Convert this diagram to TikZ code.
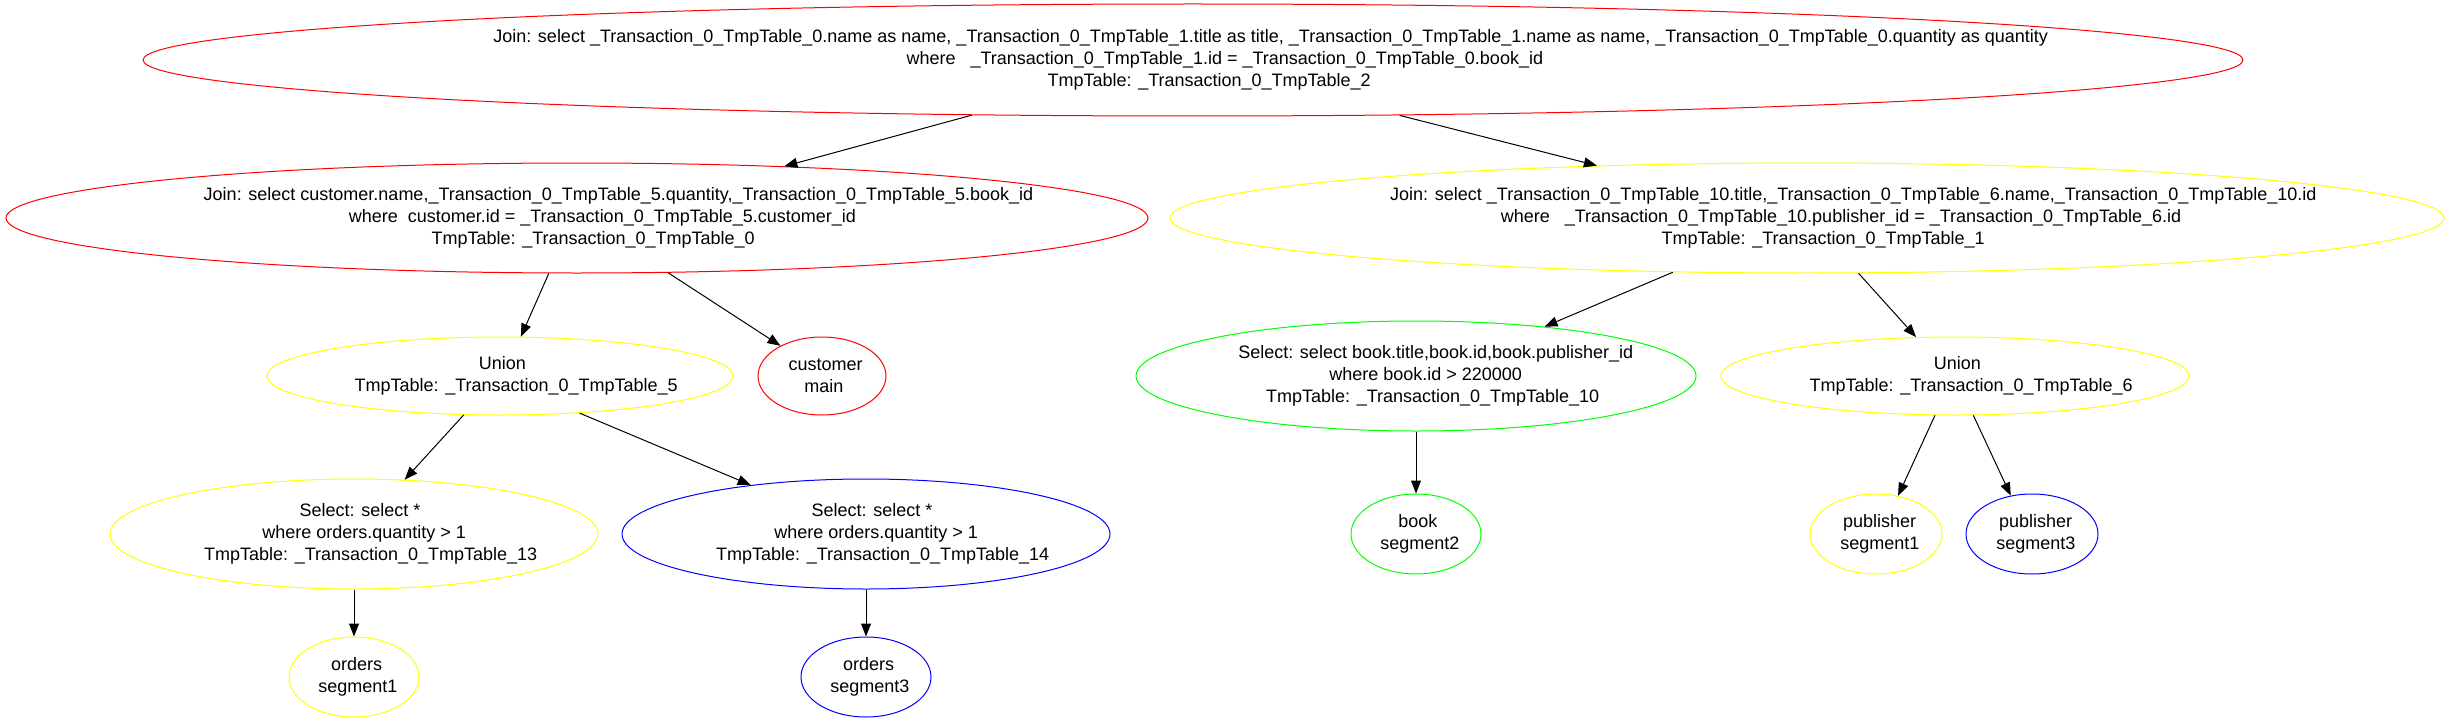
\documentclass[tikz,border=0pt]{standalone}
\usepackage{fontspec}
\setmainfont{Liberation Sans}
\usetikzlibrary{shapes.geometric,arrows.meta}
\definecolor{opred}{RGB}{255,0,0}
\definecolor{opyellow}{RGB}{255,255,0}
\definecolor{opgreen}{RGB}{0,255,0}
\definecolor{opblue}{RGB}{0,0,255}
% one label line, pushed right by a twentieth of its width
\newcommand\gvl[1]{\setbox0=\hbox{#1}\hspace*{0.1\wd0}\box0}

\begin{document}
\begin{tikzpicture}[%
    x=0.5pt, y=-0.5pt,                        % pixel grid of the plan, y going down
    >={Triangle[length=6.5pt,width=5pt]},     % filled heads like the plan's
    every path/.style={line width=0.5pt},
    ]
\tikzset{
  base/.style={draw, ellipse, inner sep=0pt},
  joinop/.style={base, minimum height=55pt},
  selop/.style={base, minimum width=244pt, minimum height=55pt},
  unionop/.style={base, minimum width=234pt, minimum height=39pt},
  segop/.style={base, minimum width=65pt, minimum height=40pt},
  txt/.style={align=center, font=\fontsize{9pt}{11pt}\selectfont},
}
\useasboundingbox (0,0) rectangle (2451,722);

% operators
\node [joinop, draw=opred, minimum width=1050pt, minimum height=56pt] (j2) at (1193,60) {};
\node [joinop, draw=opred, minimum width=571pt] (j0) at (577,218) {};
\node [joinop, draw=opyellow, minimum width=637pt] (j1) at (1807,218) {};
\node [unionop, draw=opyellow, minimum width=233pt] (u5) at (500,376) {};
\node [segop, draw=opred, minimum width=64pt, minimum height=39pt] (cust) at (822,376) {};
\node [selop, draw=opgreen, minimum width=280pt] (s10) at (1416,376) {};
\node [unionop, draw=opyellow] (u6) at (1955,376) {};
\node [selop, draw=opyellow] (s13) at (354,534) {};
\node [selop, draw=opblue] (s14) at (866,534) {};
\node [segop, draw=opgreen] (book) at (1416,534) {};
\node [segop, draw=opyellow, minimum width=66pt] (pub1) at (1876,534) {};
\node [segop, draw=opblue, minimum width=66pt] (pub3) at (2032,534) {};
\node [segop, draw=opyellow] (ord1) at (354,677) {};
\node [segop, draw=opblue] (ord3) at (866,677) {};

% labels
\node [txt] (j2t) at (j2) {\gvl{Join: select \_Transaction\_0\_TmpTable\_0.name as name, \_Transaction\_0\_TmpTable\_1.title as title, \_Transaction\_0\_TmpTable\_1.name as name, \_Transaction\_0\_TmpTable\_0.quantity as quantity}\\
  \gvl{where\ \ \ \_Transaction\_0\_TmpTable\_1.id = \_Transaction\_0\_TmpTable\_0.book\_id}\\
  \gvl{TmpTable: \_Transaction\_0\_TmpTable\_2}};
\node [txt] (j0t) at (j0) {\gvl{Join: select customer.name,\_Transaction\_0\_TmpTable\_5.quantity,\_Transaction\_0\_TmpTable\_5.book\_id}\\
  \gvl{where\ \ customer.id = \_Transaction\_0\_TmpTable\_5.customer\_id}\\
  \gvl{TmpTable: \_Transaction\_0\_TmpTable\_0}};
\node [txt] (j1t) at (j1) {\gvl{Join: select \_Transaction\_0\_TmpTable\_10.title,\_Transaction\_0\_TmpTable\_6.name,\_Transaction\_0\_TmpTable\_10.id}\\
  \gvl{where\ \ \ \_Transaction\_0\_TmpTable\_10.publisher\_id = \_Transaction\_0\_TmpTable\_6.id}\\
  \gvl{TmpTable: \_Transaction\_0\_TmpTable\_1}};
\node [txt] (u5t) at (u5) {\gvl{Union}\\\gvl{TmpTable: \_Transaction\_0\_TmpTable\_5}};
\node [txt] (custt) at (cust) {\gvl{customer}\\\gvl{main}};
\node [txt] (s10t) at (s10) {\gvl{Select: select book.title,book.id,book.publisher\_id}\\\gvl{where book.id > 220000}\\\gvl{TmpTable: \_Transaction\_0\_TmpTable\_10}};
\node [txt] (u6t) at (u6) {\gvl{Union}\\\gvl{TmpTable: \_Transaction\_0\_TmpTable\_6}};
\node [txt] (s13t) at (s13) {\gvl{Select: select *}\\\gvl{where orders.quantity > 1}\\\gvl{TmpTable: \_Transaction\_0\_TmpTable\_13}};
\node [txt] (s14t) at (s14) {\gvl{Select: select *}\\\gvl{where orders.quantity > 1}\\\gvl{TmpTable: \_Transaction\_0\_TmpTable\_14}};
\node [txt] (bookt) at (book) {\gvl{book}\\\gvl{segment2}};
\node [txt] (pub1t) at (pub1) {\gvl{publisher}\\\gvl{segment1}};
\node [txt] (pub3t) at (pub3) {\gvl{publisher}\\\gvl{segment3}};
\node [txt] (ord1t) at (ord1) {\gvl{orders}\\\gvl{segment1}};
\node [txt] (ord3t) at (ord3) {\gvl{orders}\\\gvl{segment3}};

%connect
\draw [->] (j2.194.4) -- (j0.14.4);
\draw [->] (j2.345.5) -- (j1.166);
\draw [->] (j0.243) -- (u5.62.9);
\draw [->] (j0.329.1) -- (cust.144.5);
\draw [->] (u5.227.3) -- (s13.47.2);
\draw [->] (u5.335.9) -- (s14.157.2);
\draw [->] (s13.south) -- (ord1.north);
\draw [->] (s14.south) -- (ord3.north);
\draw [->] (j1.202.6) -- (s10.21.3);
\draw [->] (j1.313.4) -- (u6.135);
\draw [->] (s10.south) -- (book.north);
\draw [->] (u6.243.4) -- (pub1.60.6);
\draw [->] (u6.295.4) -- (pub3.119.4);

\end{tikzpicture}
\end{document}
